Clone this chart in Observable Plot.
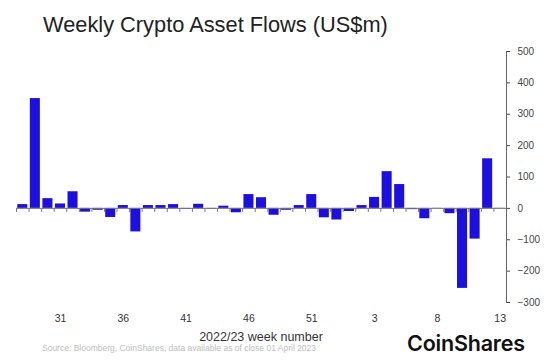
<!DOCTYPE html>
<html>
<head>
<meta charset="utf-8">
<script src="https://cdn.jsdelivr.net/npm/d3@7"></script>
<script src="https://cdn.jsdelivr.net/npm/@observablehq/plot@0.6"></script>
<style>
  html, body { margin: 0; padding: 0; background: #fff; }
  #chart { position: relative; width: 560px; height: 362px; background: #fff; font-family: 'Liberation Sans', Arial, sans-serif; overflow: hidden; }
  .abs { position: absolute; line-height: 1; white-space: nowrap; }
  #plot { width: 560px; }
  #plot svg { max-width: none !important; display: block; }
</style>
</head>
<body>
<div id="chart">
  <div class="abs" style="left:43px; top:14px; font-size:21.8px; color:#222;">Weekly Crypto Asset Flows (US$m)</div>
  <div id="plot" class="abs" style="left:0; top:40px;"></div>
  <div class="abs" style="left:16px; width:490px; top:331px; text-align:center; font-size:12.5px; color:#333;">2022/23 week number</div>
  <div class="abs" style="left:42px; top:344px; font-size:8.5px; color:#bdbdbd;">Source: Bloomberg, CoinShares, data available as of close 01 April 2023</div>
  <div class="abs" style="left:407px; top:333px; font-family:Inter, sans-serif; font-weight:600; font-size:21.5px; letter-spacing:-0.2px; color:#111;">CoinShares</div>
</div>
<script>
const weeks = ["28","29","30","31","32","33","34","35","36","37","38","39","40","41","42","43","44","45","46","47","48","49","50","51","52","53",
               "1","2","3","4","5","6","7","8","9","10","11","12","13"];
const flows = [12, 350, 31, 14, 53, -12, -6, -29, 9, -75, 9, 9, 12, -3, 13, -2, 7, -14, 44, 34, -22, -6, 9, 44, -30, -37,
               -10, 9, 35, 117, 76, -4, -33, 0.5, -17, -255, -98, 158, 0.5];
const xTickLabels = ["31","36","41","46","51","3","8","13"];
const yTicks = [-300, -200, -100, 0, 100, 200, 300, 400, 500];

const data = weeks.map((w, i) => ({week: w, flow: flows[i]}));

const W = 560, H = 290, mL = 16, mR = 54, mT = 11, mB = 28;
const step = (W - mL - mR) / weeks.length;

const chart = Plot.plot({
  width: W,
  height: H,
  marginLeft: mL,
  marginRight: mR,
  marginTop: mT,
  marginBottom: mB,
  style: {fontFamily: "'Liberation Sans', Arial, sans-serif", background: "#fff", overflow: "visible"},
  x: {type: "band", domain: weeks, paddingInner: 0.2, paddingOuter: 0.1, round: false},
  y: {domain: [-300, 500]},
  marks: [
    Plot.barY(data, {x: "week", y: "flow", fill: "#1E10DC"}),
    Plot.ruleY([0], {stroke: "#777", strokeWidth: 1}),
    Plot.ruleX(weeks, {x: d => d, y1: 0, y2: 0, insetBottom: -4, dx: -step / 2, stroke: "#777"}),
    Plot.frame({anchor: "right", stroke: "#666"}),
    Plot.axisY({ticks: yTicks, anchor: "right", tickSize: 3, tickPadding: 8, label: null, fontSize: 10, color: "#444"}),
    Plot.axisX({ticks: xTickLabels, tickSize: 0, tickPadding: 12, label: null, fontSize: 10.5, color: "#333"})
  ]
});
document.getElementById("plot").appendChild(chart);
</script>
</body>
</html>
